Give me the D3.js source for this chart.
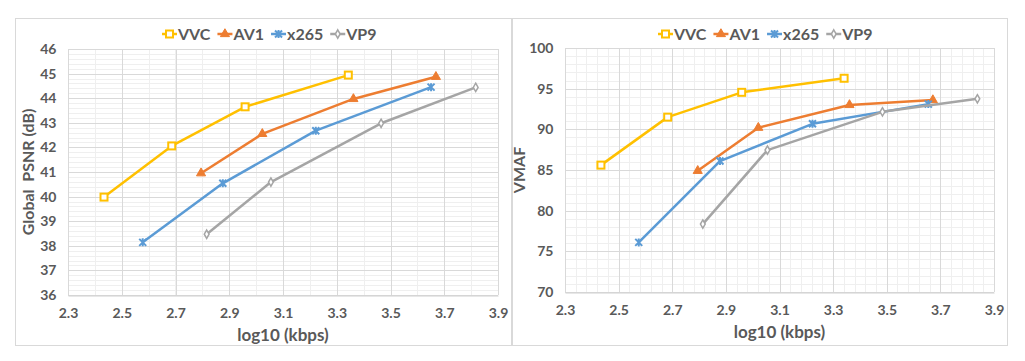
<!DOCTYPE html>
<html>
<head>
<meta charset="utf-8">
<script src="https://cdn.jsdelivr.net/npm/d3@7"></script>
<style>
  body { margin: 0; background: #fff; }
  svg { display: block; font-family: Lato, "Open Sans", sans-serif; }
</style>
</head>
<body>
<div class="svgContainer"></div>
<script>
// Series names and colours
var CODECS = ["VVC", "AV1", "x265", "VP9"];
var COLORS = ["#FFC000", "#ED7D31", "#5B9BD5", "#A5A5A5"];

// Left panel: log10 (kbps) vs Global PSNR (dB)
var psnrRate = [
    [2.434, 2.686, 2.959, 3.343],
    [2.795, 3.023, 3.362, 3.669],
    [2.578, 2.876, 3.222, 3.651],
    [2.816, 3.055, 3.465, 3.817]
];
var psnrVal = [
    [39.98, 42.06, 43.65, 44.94],
    [40.95, 42.55, 43.97, 44.87],
    [38.14, 40.54, 42.68, 44.45],
    [38.47, 40.59, 42.98, 44.44]
];

// Right panel: log10 (kbps) vs VMAF
var vmafRate = [
    [2.434, 2.683, 2.959, 3.341],
    [2.795, 3.021, 3.361, 3.672],
    [2.575, 2.878, 3.223, 3.655],
    [2.814, 3.055, 3.484, 3.838]
];
var vmafVal = [
    [85.6, 91.5, 94.55, 96.28],
    [84.9, 90.2, 93.0, 93.6],
    [76.1, 86.1, 90.68, 93.1],
    [78.35, 87.45, 92.15, 93.75]
];

var xTicks = [2.3, 2.5, 2.7, 2.9, 3.1, 3.3, 3.5, 3.7, 3.9];
var psnrTicks = [36, 37, 38, 39, 40, 41, 42, 43, 44, 45, 46];
var vmafTicks = [70, 75, 80, 85, 90, 95, 100];

var svg = d3.select(".svgContainer").append("svg")
    .attr("width", 1025)
    .attr("height", 361);

function drawMarker(g, i, color) {
    if (i == 0) {
        g.append("rect").attr("x", -3.5).attr("y", -3.5).attr("width", 7).attr("height", 7)
            .attr("fill", "#fff").attr("stroke", color).attr("stroke-width", 2);
    } else if (i == 1) {
        g.append("path").attr("d", d3.symbol(d3.symbolTriangle, 36)())
            .attr("fill", color).attr("stroke", color).attr("stroke-width", 1);
    } else if (i == 2) {
        g.append("path").attr("d", "M-3.5,-3.5L3.5,3.5M-3.5,3.5L3.5,-3.5M0,-4L0,4")
            .attr("fill", "none").attr("stroke", color).attr("stroke-width", 2);
    } else {
        g.append("path").attr("d", d3.symbol(d3.symbolDiamond, 20)())
            .attr("fill", "#fff").attr("stroke", color).attr("stroke-width", 1.5);
    }
}

function drawPanel(p) {
    // outer frame
    svg.append("rect")
        .attr("x", p.frame[0] + 0.5).attr("y", p.frame[1] + 0.5)
        .attr("width", p.frame[2]).attr("height", p.frame[3])
        .attr("fill", "#fff").attr("stroke", "#d9d9d9");

    var x = d3.scaleLinear().domain([2.3, 3.9]).range([p.left, p.right]);
    var y = d3.scaleLinear().domain(p.yDomain).range([p.bottom, p.top]);
    var g = svg.append("g");
    var grid = g.append("g").attr("shape-rendering", "crispEdges");

    // minor grid
    var xMinor = d3.range(0, Math.round(16 / p.xMinorStep) + 1).map(function(k) { return 2.3 + k * p.xMinorStep * 0.1; });
    var yMinor = d3.range(p.yDomain[0], p.yDomain[1] + 1e-9, p.yMinorStep);
    grid.selectAll(".xminor").data(xMinor).enter().append("line")
        .attr("class", "xminor")
        .attr("x1", function(d) { return Math.round(x(d)) + 0.5; })
        .attr("x2", function(d) { return Math.round(x(d)) + 0.5; })
        .attr("y1", p.top).attr("y2", p.bottom)
        .attr("stroke", "#efefef");
    grid.selectAll(".yminor").data(yMinor).enter().append("line")
        .attr("class", "yminor")
        .attr("y1", function(d) { return Math.round(y(d)) + 0.5; })
        .attr("y2", function(d) { return Math.round(y(d)) + 0.5; })
        .attr("x1", p.left).attr("x2", p.right)
        .attr("stroke", "#efefef");

    // major grid
    grid.selectAll(".xmajor").data(xTicks).enter().append("line")
        .attr("class", "xmajor")
        .attr("x1", function(d) { return Math.round(x(d)) + 0.5; })
        .attr("x2", function(d) { return Math.round(x(d)) + 0.5; })
        .attr("y1", p.top).attr("y2", p.bottom)
        .attr("stroke", "#d9d9d9");
    grid.selectAll(".ymajor").data(p.yTicks).enter().append("line")
        .attr("class", "ymajor")
        .attr("y1", function(d) { return Math.round(y(d)) + 0.5; })
        .attr("y2", function(d) { return Math.round(y(d)) + 0.5; })
        .attr("x1", p.left).attr("x2", p.right)
        .attr("stroke", "#d9d9d9");

    // axes
    var xAxis = g.append("g")
        .attr("transform", "translate(0," + (Math.round(p.bottom) + 0.5) + ")")
        .call(d3.axisBottom(x).tickValues(xTicks).tickFormat(d3.format(".1f")).tickSize(0).tickPadding(13));
    var yAxis = g.append("g")
        .attr("transform", "translate(" + (p.left + 0.5) + ",0)")
        .call(d3.axisLeft(y).tickValues(p.yTicks).tickSize(0).tickPadding(12));
    [xAxis, yAxis].forEach(function(a) {
        a.select(".domain").attr("stroke", "#d0d0d0");
        a.selectAll("text").attr("fill", "#595959").attr("font-size", "14px")
            .attr("font-weight", "bold").attr("font-family", "Lato, sans-serif");
    });
    yAxis.select(".domain").remove();

    // axis titles
    g.append("text")
        .attr("x", (p.left + p.right) / 2).attr("y", p.bottom + 46)
        .attr("text-anchor", "middle").attr("fill", "#595959")
        .attr("font-size", "17px").attr("font-weight", "bold")
        .text("log10 (kbps)");
    g.append("text")
        .attr("transform", "translate(" + p.yTitleX + "," + ((p.top + p.bottom) / 2) + ") rotate(-90)")
        .attr("text-anchor", "middle").attr("fill", "#595959")
        .attr("font-size", "16px").attr("font-weight", "bold")
        .attr("xml:space", "preserve")
        .text(p.yTitle);

    // series
    var line = d3.line().x(function(d) { return x(d[0]); }).y(function(d) { return y(d[1]); });
    CODECS.forEach(function(name, i) {
        var pts = p.rate[i].map(function(r, k) { return [r, p.val[i][k]]; });
        g.append("path").datum(pts)
            .attr("d", line).attr("fill", "none")
            .attr("stroke", COLORS[i]).attr("stroke-width", 2.5)
            .attr("stroke-linejoin", "round");
        pts.forEach(function(d) {
            drawMarker(g.append("g").attr("transform", "translate(" + x(d[0]) + "," + y(d[1]) + ")"), i, COLORS[i]);
        });
    });

    // legend
    var leg = g.append("g").attr("transform", "translate(" + p.legendX + ",34)");
    var off = 0;
    CODECS.forEach(function(name, i) {
        var it = leg.append("g").attr("transform", "translate(" + off + ",0)");
        it.append("line").attr("x1", 0).attr("x2", 15).attr("y1", 0).attr("y2", 0)
            .attr("stroke", COLORS[i]).attr("stroke-width", 2.5);
        drawMarker(it.append("g").attr("transform", "translate(7.5,0)"), i, COLORS[i]);
        var t = it.append("text").attr("x", 16).attr("y", 5.5)
            .attr("fill", "#595959").attr("font-size", "16px").attr("font-weight", "bold")
            .text(name);
        off += 16 + t.node().getComputedTextLength() + 7;
    });
}

drawPanel({
    frame: [15, 18, 496, 327],
    left: 68, right: 498, top: 49, bottom: 295,
    yDomain: [36, 46], yTicks: psnrTicks, yMinorStep: 0.2, xMinorStep: 1,
    rate: psnrRate, val: psnrVal,
    yTitle: "Global  PSNR (dB)", yTitleX: 34,
    legendX: 162
});

drawPanel({
    frame: [512, 18, 495, 327],
    left: 565, right: 994, top: 48, bottom: 292,
    yDomain: [70, 100], yTicks: vmafTicks, yMinorStep: 1, xMinorStep: 0.4,
    rate: vmafRate, val: vmafVal,
    yTitle: "VMAF", yTitleX: 525,
    legendX: 658
});
</script>
</body>
</html>
